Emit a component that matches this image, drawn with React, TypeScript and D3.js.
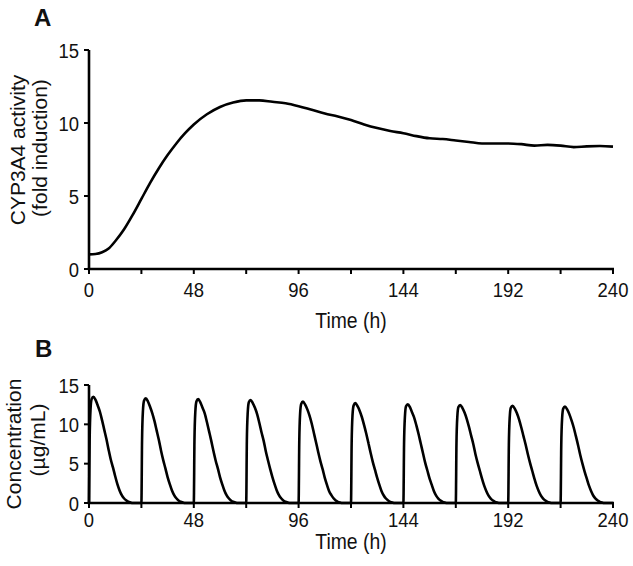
import React from "react";
import * as d3 from "d3";

// Panel A: CYP3A4 activity (fold induction) vs time (h)
const activityTime = [0, 3, 6, 9, 12, 16, 20, 24, 28, 32, 36, 40, 44, 48, 54, 60, 66, 72, 78, 84, 90, 96, 102, 108, 114, 120, 126, 132, 138, 144, 150, 156, 162, 168, 174, 180, 186, 192, 198, 204, 210, 216, 222, 228, 234, 240];
const activityValue = [1.0, 1.03, 1.15, 1.4, 1.9, 2.7, 3.7, 4.8, 5.9, 6.9, 7.8, 8.6, 9.3, 9.9, 10.6, 11.1, 11.4, 11.55, 11.55, 11.45, 11.35, 11.15, 10.9, 10.65, 10.45, 10.2, 9.9, 9.65, 9.45, 9.3, 9.1, 8.95, 8.9, 8.8, 8.7, 8.6, 8.6, 8.6, 8.55, 8.45, 8.5, 8.45, 8.35, 8.4, 8.42, 8.38];

// Panel B: concentration (µg/mL), one pulse per dose
const doseTimes = [0, 24, 48, 72, 96, 120, 144, 168, 192, 216];
const pulseHours = [0, 0.3, 0.7, 1.2, 2, 3, 4, 5, 6, 7, 8, 9, 10, 11, 12, 13, 14, 15, 16, 17, 18, 19, 20];
const pulseConc = [
  [0, 8.1, 11.9, 13.2, 13.5, 13.1, 12.4, 11.6, 10.5, 9.3, 8.1, 6.75, 5.5, 4.5, 3.4, 2.4, 1.6, 1.0, 0.6, 0.34, 0.16, 0.07, 0],
  [0, 8.0, 11.7, 13.0, 13.3, 12.9, 12.2, 11.4, 10.4, 9.2, 8.0, 6.65, 5.45, 4.4, 3.3, 2.4, 1.6, 1.0, 0.6, 0.33, 0.16, 0.07, 0],
  [0, 7.9, 11.6, 12.9, 13.2, 12.8, 12.1, 11.4, 10.3, 9.1, 7.9, 6.6, 5.4, 4.4, 3.3, 2.4, 1.6, 1.0, 0.6, 0.33, 0.16, 0.07, 0],
  [0, 7.9, 11.5, 12.8, 13.1, 12.7, 12.1, 11.3, 10.2, 9.0, 7.9, 6.55, 5.4, 4.3, 3.3, 2.4, 1.6, 1.0, 0.6, 0.33, 0.16, 0.07, 0],
  [0, 7.7, 11.4, 12.6, 12.9, 12.5, 11.9, 11.1, 10.1, 8.9, 7.7, 6.45, 5.3, 4.3, 3.2, 2.3, 1.5, 1.0, 0.6, 0.32, 0.15, 0.06, 0],
  [0, 7.6, 11.2, 12.4, 12.7, 12.3, 11.7, 10.9, 9.9, 8.8, 7.6, 6.35, 5.2, 4.2, 3.2, 2.3, 1.5, 0.95, 0.57, 0.32, 0.15, 0.06, 0],
  [0, 7.5, 11.0, 12.3, 12.55, 12.2, 11.5, 10.8, 9.8, 8.7, 7.5, 6.3, 5.1, 4.1, 3.1, 2.3, 1.5, 0.94, 0.56, 0.31, 0.15, 0.06, 0],
  [0, 7.5, 11.0, 12.2, 12.45, 12.1, 11.5, 10.7, 9.7, 8.6, 7.5, 6.2, 5.1, 4.1, 3.1, 2.2, 1.5, 0.93, 0.56, 0.31, 0.15, 0.06, 0],
  [0, 7.4, 10.9, 12.1, 12.35, 12.0, 11.4, 10.6, 9.6, 8.5, 7.4, 6.2, 5.1, 4.1, 3.1, 2.2, 1.5, 0.93, 0.56, 0.31, 0.15, 0.06, 0],
  [0, 7.35, 10.8, 12.0, 12.25, 11.9, 11.3, 10.5, 9.6, 8.5, 7.35, 6.1, 5.0, 4.0, 3.1, 2.2, 1.5, 0.92, 0.55, 0.31, 0.15, 0.06, 0],
];

const xTicks = [0, 24, 48, 72, 96, 120, 144, 168, 192, 216, 240];
const xTickLabels = [0, 48, 96, 144, 192, 240];
const yTicks = [0, 5, 10, 15];

const FONT = "'Liberation Sans', Arial, Helvetica, sans-serif";
const SX = 0.88; // horizontal squeeze seen in the reference lettering

const x = d3.scaleLinear().domain([0, 240]).range([89, 613]);
const yA = d3.scaleLinear().domain([0, 15]).range([269, 50]);
const yB = d3.scaleLinear().domain([0, 15]).range([503, 385]);

type Pt = [number, number];

function Label({ px, py, anchor, size, children, dy }: { px: number; py: number; anchor: string; size: number; children: React.ReactNode; dy?: string }) {
  return (
    <text transform={`translate(${px},${py}) scale(${SX},1)`} dy={dy} textAnchor={anchor} fontSize={size} fontFamily={FONT} fill="#111">
      {children}
    </text>
  );
}

function Axes({ y, tickLabelY, titleY }: { y: d3.ScaleLinear<number, number>; tickLabelY: number; titleY: number }) {
  const y0 = y(0);
  const yTop = y(15);
  return (
    <g>
      <line x1={x(0)} x2={x(0)} y1={yTop} y2={y0} stroke="#000" strokeWidth={2.6} />
      <line x1={x(0) - 1.3} x2={x(240) + 1} y1={y0} y2={y0} stroke="#000" strokeWidth={2.6} />
      {yTicks.map((t) => (
        <g key={"y" + t}>
          <line x1={x(0) - 5} x2={x(0)} y1={y(t)} y2={y(t)} stroke="#000" strokeWidth={2} />
          <Label px={79} py={y(t)} dy="0.36em" anchor="end" size={21}>{t}</Label>
        </g>
      ))}
      {xTicks.map((t) => (
        <line key={"x" + t} x1={x(t)} x2={x(t)} y1={y0} y2={y0 + 5} stroke="#000" strokeWidth={2} />
      ))}
      {xTickLabels.map((t) => (
        <Label key={"xl" + t} px={x(t)} py={tickLabelY} anchor="middle" size={21}>{t}</Label>
      ))}
      <Label px={(x(0) + x(240)) / 2} py={titleY} anchor="middle" size={22}>Time (h)</Label>
    </g>
  );
}

export default function App() {
  const lineA = d3.line<Pt>().x((d) => x(d[0])).y((d) => yA(d[1])).curve(d3.curveMonotoneX);
  const ptsA: Pt[] = activityTime.map((t, i) => [t, activityValue[i]]);

  const ptsB: Pt[] = [];
  doseTimes.forEach((d, i) => {
    pulseHours.forEach((h, j) => ptsB.push([d + h, pulseConc[i][j]]));
  });
  ptsB.push([240, 0]);
  const lineB = d3.line<Pt>().x((d) => x(d[0])).y((d) => yB(d[1])).curve(d3.curveMonotoneX);

  return (
    <svg width={633} height={566} style={{ position: "absolute", left: 0, top: 0, background: "#fff" }}>
      <rect width={633} height={566} fill="#fff" />
      {/* Panel A */}
      <text x={34} y={26} fontSize={24} fontWeight="bold" fontFamily={FONT} fill="#111">A</text>
      <Axes y={yA} tickLabelY={297} titleY={328} />
      <path d={lineA(ptsA) || ""} fill="none" stroke="#000" strokeWidth={2.6} />
      <g fontSize={21} fontFamily={FONT} fill="#111" textAnchor="middle">
        <text transform={`translate(25,150) rotate(-90)`}>CYP3A4 activity</text>
        <text transform={`translate(47,148) rotate(-90)`}>(fold induction)</text>
      </g>

      {/* Panel B */}
      <text x={35} y={357} fontSize={24} fontWeight="bold" fontFamily={FONT} fill="#111">B</text>
      <Axes y={yB} tickLabelY={527} titleY={549} />
      <path d={lineB(ptsB) || ""} fill="none" stroke="#000" strokeWidth={2.6} />
      <g fontSize={21} fontFamily={FONT} fill="#111" textAnchor="middle">
        <text transform={`translate(21,444) rotate(-90)`}>Concentration</text>
        <text transform={`translate(45,440) rotate(-90)`}>(µg/mL)</text>
      </g>
    </svg>
  );
}
